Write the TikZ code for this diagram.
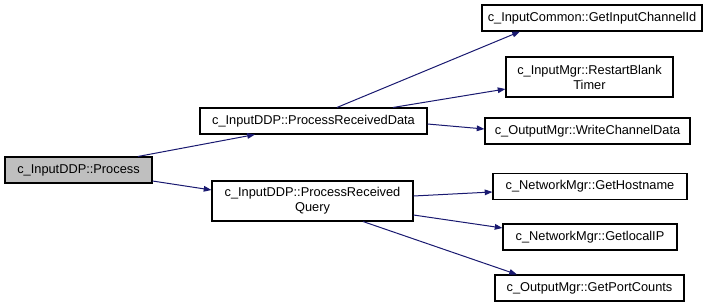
\documentclass[tikz,border=0pt]{standalone}
\usepackage{fontspec}
\setmainfont{Liberation Sans}
\usetikzlibrary{arrows.meta}
\definecolor{edgeblue}{HTML}{191970}
\definecolor{rootfill}{HTML}{BFBFBF}
\tikzset{
  fn/.style={draw=black, line width=0.8pt, fill=white, inner sep=0pt, align=center,
    font=\fontsize{9.6pt}{11.25pt}\selectfont},
  rootfn/.style={fn, fill=rootfill},
  call/.style={draw=edgeblue, line width=0.75pt,
    -{Triangle[length=5.8pt, width=4.2pt]}, shorten >=0pt}
}
\begin{document}
\begin{tikzpicture}[x=0.75pt, y=-0.75pt]
  \useasboundingbox (0,0) rectangle (711,307);

  % caller
  \node[rootfn, minimum width=110.25pt, minimum height=19.5pt] (proc) at (78.5,170) {c\_InputDDP::Process};

  % second level
  \node[fn, minimum width=170.25pt, minimum height=19.5pt] (data) at (313.5,121) {c\_InputDDP::ProcessReceivedData};
  \node[fn, minimum width=150.75pt, minimum height=30pt] (query) at (312.5,201) {c\_InputDDP::ProcessReceived\\Query};

  % leaves
  \node[fn, minimum width=165pt, minimum height=19.5pt] (gic) at (592,18) {c\_InputCommon::GetInputChannelId};
  \node[fn, minimum width=125.25pt, minimum height=30pt] (rbt) at (589.5,77) {c\_InputMgr::RestartBlank\\Timer};
  \node[fn, minimum width=153.75pt, minimum height=19.5pt] (wcd) at (587.5,131) {c\_OutputMgr::WriteChannelData};
  \node[fn, minimum width=145.5pt, minimum height=19.5pt] (gh) at (590,186.5) {c\_NetworkMgr::GetHostname};
  \node[fn, minimum width=130.5pt, minimum height=19.5pt] (glip) at (590,237) {c\_NetworkMgr::GetlocalIP};
  \node[fn, minimum width=141.75pt, minimum height=19.5pt] (gpc) at (589.5,288) {c\_OutputMgr::GetPortCounts};

  % calls
  \draw[call] ([xshift=44.6pt]proc.north) -- ([xshift=-43.9pt]data.south);
  \draw[call] ([yshift=-8.25pt]proc.east) -- ([yshift=8.25pt]query.west);

  \draw[call] ([xshift=17.6pt]data.north) -- ([xshift=-54pt]gic.south);
  \draw[call] ([xshift=59.6pt]data.north) -- ([yshift=-9pt]rbt.west);
  \draw[call] ([yshift=-2.25pt]data.east) -- ([yshift=1.5pt]wcd.west);

  \draw[call] ([yshift=3.75pt]query.east) -- ([yshift=-4.1pt]gh.west);
  \draw[call] ([yshift=-10.5pt]query.east) -- ([yshift=6.75pt]glip.west);
  \draw[call] ([xshift=37.9pt]query.south) -- ([xshift=-54.4pt]gpc.north);
\end{tikzpicture}
\end{document}
